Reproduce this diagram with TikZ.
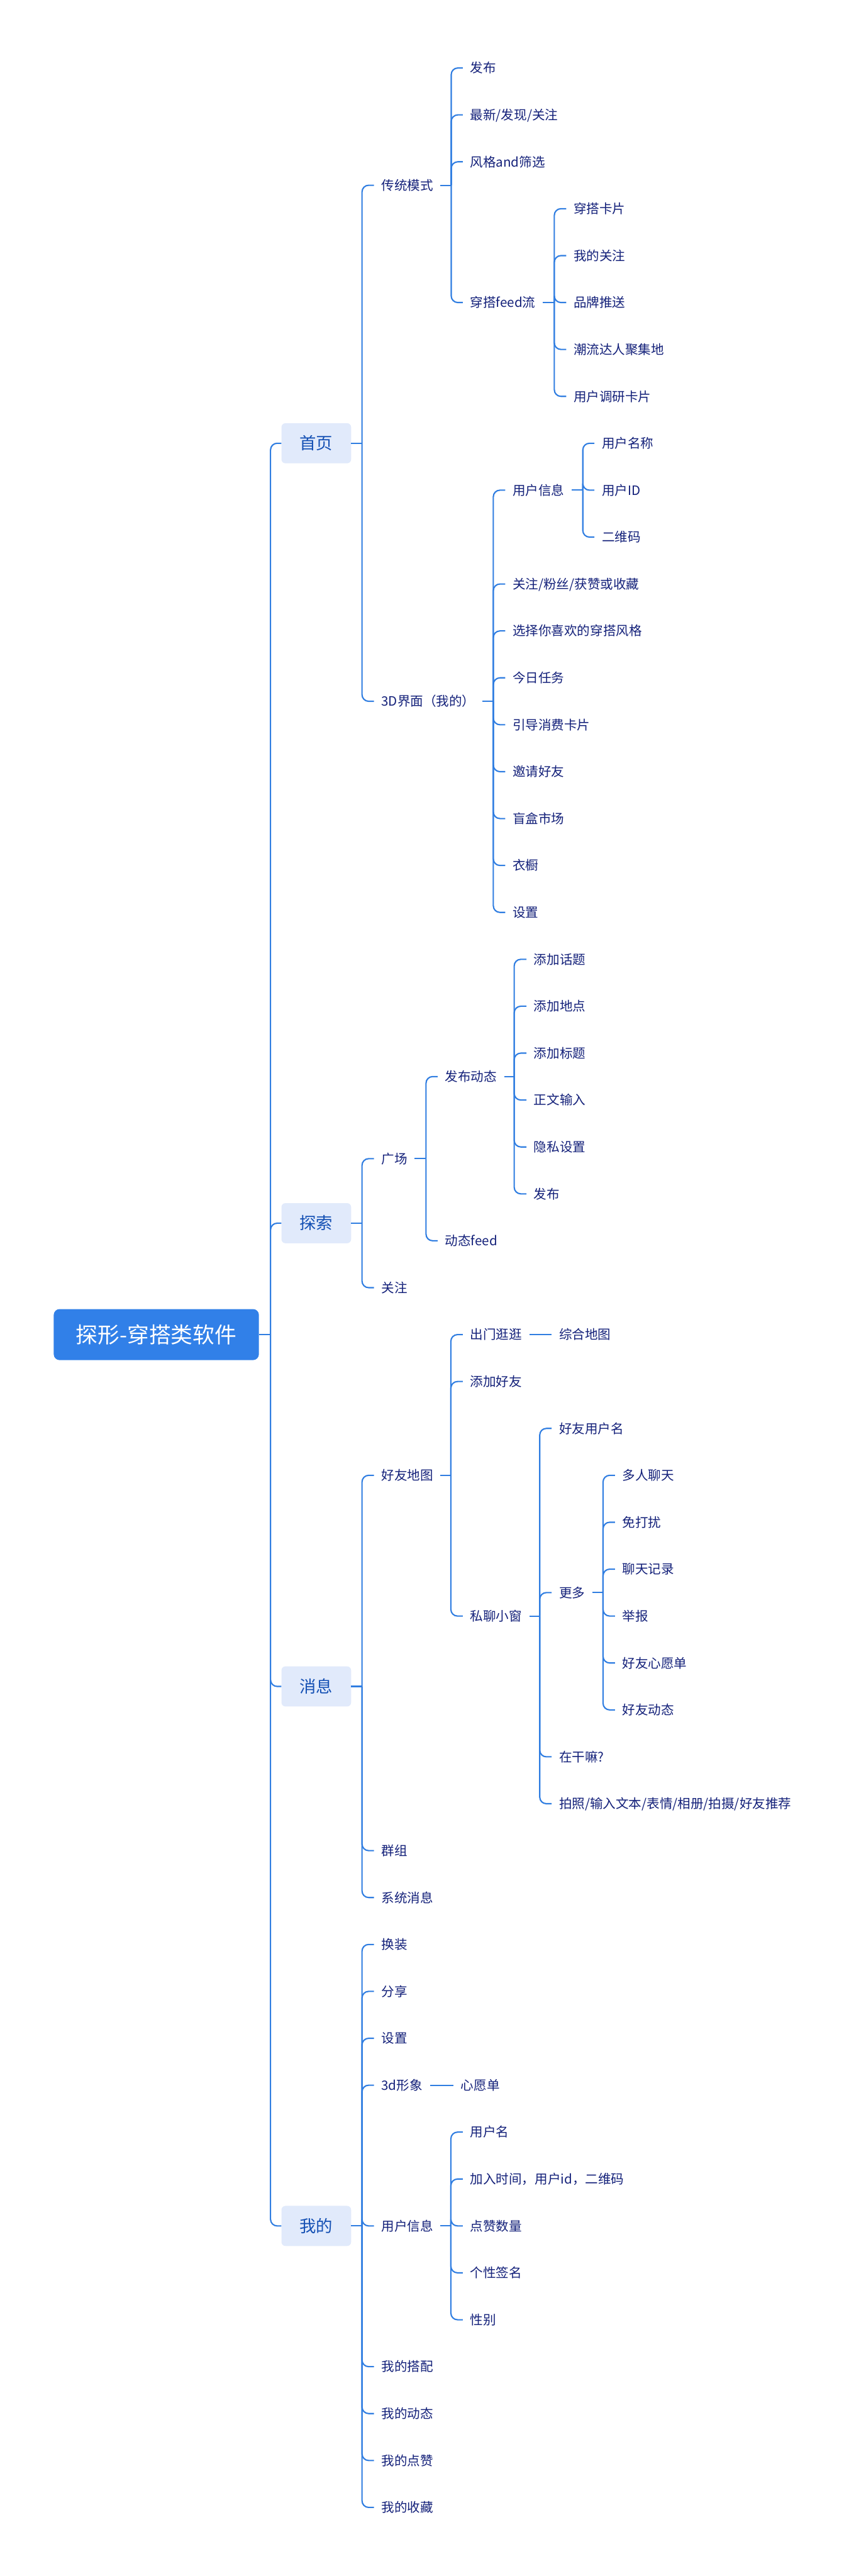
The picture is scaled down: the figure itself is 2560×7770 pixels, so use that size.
\documentclass[tikz,border=0pt]{standalone}
\usepackage{fontspec}
\setmainfont{Noto Sans CJK SC}
\definecolor{linec}{HTML}{2F7DE1}
\definecolor{txtc}{HTML}{14217A}
\definecolor{lonefill}{HTML}{E1EAFB}
\definecolor{lonetext}{HTML}{1450B4}
\definecolor{rootc}{HTML}{3180E8}
\newcommand\mmleaf[4]{\node[txt] (#1) at (#2,{205+141.5*(#3)}) {#4};}
\newcommand\mmfork[4]{%
  \coordinate (#1-b) at (#2,{205+141.5*(#3)});
  \draw[conn] (#1.east) -- (#1-b);
  \foreach \mmc in {#4} {\draw[conn] (#1-b) |- (\mmc.west);}
}
\begin{document}
\begin{tikzpicture}[x=0.5pt,y=-0.5pt,
  txt/.style={anchor=west, inner xsep=11pt, inner ysep=0pt, text height=16pt, text depth=1.2pt,
    font=\fontsize{19.5pt}{23pt}\selectfont, text=txtc},
  conn/.style={draw=linec, line width=2pt, rounded corners=10pt},
  lone/.style={rectangle, rounded corners=6pt, fill=lonefill, text=lonetext,
    font=\fontsize{25pt}{30pt}\selectfont, minimum width=105pt, minimum height=60.5pt,
    inner sep=0pt, text height=20pt, text depth=1pt},
  rootbox/.style={rectangle, rounded corners=9pt, fill=rootc, text=white,
    font=\fontsize{33pt}{40pt}\selectfont, minimum width=309.5pt, minimum height=77pt,
    inner sep=0pt, text height=27pt, text depth=2pt}]
\fill[white] (0,0) rectangle (2560,7770);
\useasboundingbox (0,0) rectangle (2560,7770);

% root and level 1
\node[rootbox] (root) at (471.5,{205+141.5*27}) {探形-穿搭类软件};
\node[lone] (sy) at (954,{205+141.5*8}) {首页};
\node[lone] (ts) at (954,{205+141.5*24.625}) {探索};
\node[lone] (xx) at (954,{205+141.5*34.5}) {消息};
\node[lone] (wd) at (954,{205+141.5*46}) {我的};

% 首页
\mmleaf{ct}{1128}{2.5}{传统模式}
\mmleaf{td}{1128}{13.5}{3D界面（我的）}
\mmleaf{fb}{1396}{0}{发布}
\mmleaf{zx}{1396}{1}{最新/发现/关注}
\mmleaf{fg}{1396}{2}{风格and筛选}
\mmleaf{cd}{1396}{5}{穿搭feed流}
\mmleaf{ck}{1708}{3}{穿搭卡片}
\mmleaf{wg}{1708}{4}{我的关注}
\mmleaf{pp}{1708}{5}{品牌推送}
\mmleaf{cl}{1708}{6}{潮流达人聚集地}
\mmleaf{dy}{1708}{7}{用户调研卡片}
\mmleaf{yx}{1524}{9}{用户信息}
\mmleaf{gz}{1524}{11}{关注/粉丝/获赞或收藏}
\mmleaf{xz}{1524}{12}{选择你喜欢的穿搭风格}
\mmleaf{jr}{1524}{13}{今日任务}
\mmleaf{yd}{1524}{14}{引导消费卡片}
\mmleaf{yq}{1524}{15}{邀请好友}
\mmleaf{mh}{1524}{16}{盲盒市场}
\mmleaf{yc}{1524}{17}{衣橱}
\mmleaf{sz}{1524}{18}{设置}
\mmleaf{mc}{1793}{8}{用户名称}
\mmleaf{id}{1793}{9}{用户ID}
\mmleaf{ew}{1793}{10}{二维码}

% 探索
\mmleaf{gc}{1128}{23.25}{广场}
\mmleaf{gzb}{1128}{26}{关注}
\mmleaf{fd}{1320}{21.5}{发布动态}
\mmleaf{df}{1320}{25}{动态feed}
\mmleaf{aa}{1588}{19}{添加话题}
\mmleaf{ab}{1588}{20}{添加地点}
\mmleaf{ac}{1588}{21}{添加标题}
\mmleaf{ad}{1588}{22}{正文输入}
\mmleaf{ae}{1588}{23}{隐私设置}
\mmleaf{af}{1588}{24}{发布}

% 消息
\mmleaf{hd}{1128}{30}{好友地图}
\mmleaf{qz}{1128}{38}{群组}
\mmleaf{xt}{1128}{39}{系统消息}
\mmleaf{cm}{1396}{27}{出门逛逛}
\mmleaf{zh}{1664}{27}{综合地图}
\mmleaf{tj}{1396}{28}{添加好友}
\mmleaf{sl}{1396}{33}{私聊小窗}
\mmleaf{hy}{1664}{29}{好友用户名}
\mmleaf{gd}{1664}{32.5}{更多}
\mmleaf{zg}{1664}{36}{在干嘛?}
\mmleaf{pz}{1664}{37}{拍照/输入文本/表情/相册/拍摄/好友推荐}
\mmleaf{ba}{1855}{30}{多人聊天}
\mmleaf{bb}{1855}{31}{免打扰}
\mmleaf{bc}{1855}{32}{聊天记录}
\mmleaf{bd}{1855}{33}{举报}
\mmleaf{be}{1855}{34}{好友心愿单}
\mmleaf{bf}{1855}{35}{好友动态}

% 我的
\mmleaf{hz}{1128}{40}{换装}
\mmleaf{fx}{1128}{41}{分享}
\mmleaf{szb}{1128}{42}{设置}
\mmleaf{sd}{1128}{43}{3d形象}
\mmleaf{xy}{1368}{43}{心愿单}
\mmleaf{yxb}{1128}{46}{用户信息}
\mmleaf{ca}{1396}{44}{用户名}
\mmleaf{cb}{1396}{45}{加入时间，用户id，二维码}
\mmleaf{cc}{1396}{46}{点赞数量}
\mmleaf{ce}{1396}{47}{个性签名}
\mmleaf{cf}{1396}{48}{性别}
\mmleaf{ma}{1128}{49}{我的搭配}
\mmleaf{mb}{1128}{50}{我的动态}
\mmleaf{md}{1128}{51}{我的点赞}
\mmleaf{me}{1128}{52}{我的收藏}

% connectors
\mmfork{root}{816}{27}{sy,ts,xx,wd}
\mmfork{sy}{1092}{8}{ct,td}
\mmfork{ct}{1361}{2.5}{fb,zx,fg,cd}
\mmfork{cd}{1672}{5}{ck,wg,pp,cl,dy}
\mmfork{td}{1488}{13.5}{yx,gz,xz,jr,yd,yq,mh,yc,sz}
\mmfork{yx}{1758}{9}{mc,id,ew}
\mmfork{ts}{1092}{24.625}{gc,gzb}
\mmfork{gc}{1285}{23.25}{fd,df}
\mmfork{fd}{1551}{21.5}{aa,ab,ac,ad,ae,af}
\mmfork{xx}{1092}{34.5}{hd,qz,xt}
\mmfork{hd}{1360}{30}{cm,tj,sl}
\draw[conn] (cm.east) -- (zh.west);
\mmfork{sl}{1628}{33}{hy,gd,zg,pz}
\mmfork{gd}{1819}{32.5}{ba,bb,bc,bd,be,bf}
\mmfork{wd}{1092}{46}{hz,fx,szb,sd,yxb,ma,mb,md,me}
\draw[conn] (sd.east) -- (xy.west);
\mmfork{yxb}{1360}{46}{ca,cb,cc,ce,cf}
\end{tikzpicture}
\end{document}
